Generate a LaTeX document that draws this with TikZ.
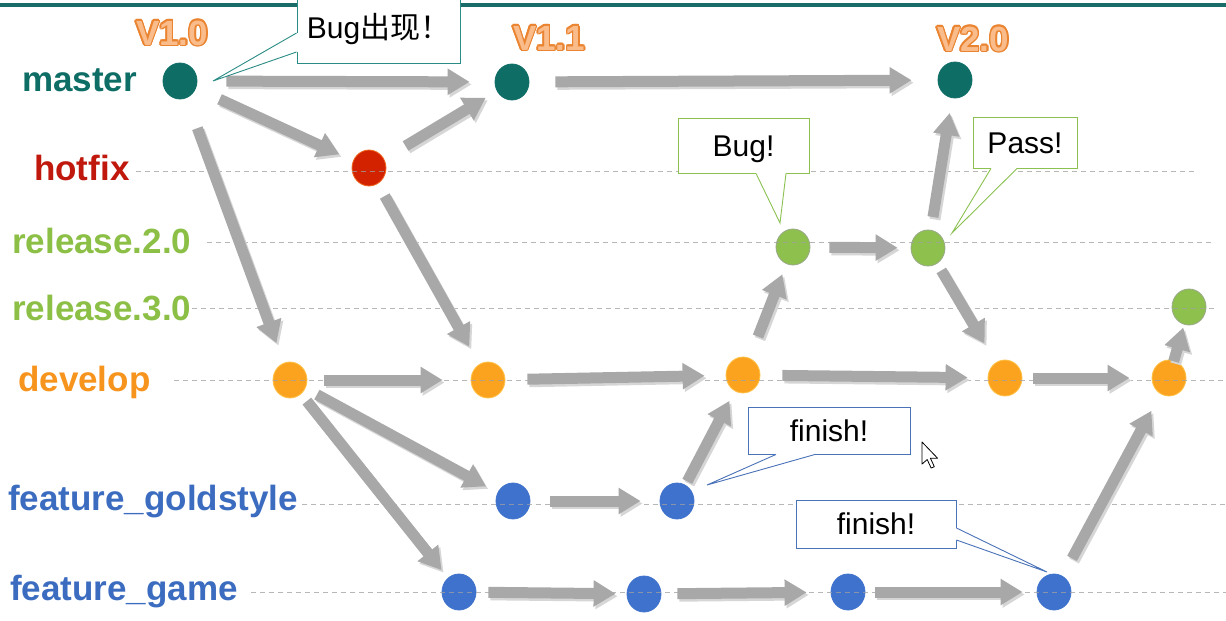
\documentclass[tikz,border=0pt]{standalone}
\usepackage{fontspec}
\setmainfont{Liberation Sans}
\newfontfamily\cjkfont{Noto Sans CJK SC}
\usetikzlibrary{arrows.meta,calc,shapes.geometric}
\definecolor{cteal}{HTML}{0E6E66}
\definecolor{topteal}{HTML}{1A6C68}
\definecolor{calteal}{HTML}{2A8C85}
\definecolor{chot}{HTML}{C0180C}
\definecolor{cred}{HTML}{D22200}
\definecolor{credrim}{HTML}{F06A20}
\definecolor{cgreen}{HTML}{8CBF45}
\definecolor{cgreennode}{HTML}{8DC04C}
\definecolor{cgreenrim}{HTML}{9AA88A}
\definecolor{calgreen}{HTML}{8CC152}
\definecolor{corange}{HTML}{F7941D}
\definecolor{corangenode}{HTML}{FBA31E}
\definecolor{corangerim}{HTML}{FFC24A}
\definecolor{cblue}{HTML}{3B6CC0}
\definecolor{cbluenode}{HTML}{3F72CC}
\definecolor{calblue}{HTML}{4A72B8}
\definecolor{arrowgray}{HTML}{A8A8A8}
\definecolor{shadowgray}{HTML}{D6D6D6}
\definecolor{dashgray}{HTML}{A0A0A0}
\definecolor{vorange}{HTML}{EA8430}
\definecolor{vfill}{HTML}{F9BC8A}
\newcommand{\garr}[4]{%
  \begin{scope}[transform canvas={shift={(2,2.5)}}]
    \draw[gshadow, shorten <=#3pt, shorten >=#4pt] (#1) -- (#2);
  \end{scope}
  \draw[garrow, shorten <=#3pt, shorten >=#4pt] (#1) -- (#2);}
\newcommand{\wedgecall}[5]{%
  \fill[white] ($(#2)+(#5)$) -- (#2) -- (#4) -- (#3) -- ($(#3)+(#5)$) -- cycle;
  \draw[#1, line width=0.9pt, line join=miter] (#2) -- (#4) -- (#3);}
\newcommand{\vtag}[3]{%
  \foreach \ang in {0,30,...,330} {\node[vtxt, text=vorange] at ($(#2)+(\ang:1.5pt)$) {#3};}
  \node[vtxt, text=vfill] (#1) at (#2) {#3};}
\begin{document}
\begin{tikzpicture}[x=1pt,y=-1pt,
  cnode/.style={ellipse, minimum width=34pt, minimum height=36pt, inner sep=0pt, line width=0.8pt},
  tnode/.style={cnode, fill=cteal, draw=cteal},
  rnode/.style={cnode, fill=cred, draw=credrim},
  gnode/.style={cnode, fill=cgreennode, draw=cgreenrim},
  onode/.style={cnode, fill=corangenode, draw=corangerim},
  bnode/.style={cnode, fill=cbluenode, draw=cbluenode},
  garrow/.style={draw=arrowgray, line width=11pt, -{Triangle[length=22pt,width=25pt]}},
  gshadow/.style={draw=shadowgray, line width=11pt, -{Triangle[length=22pt,width=25pt]}},
  dline/.style={draw=dashgray, line width=1pt, dash pattern=on 5pt off 4pt, opacity=0.75},
  callbox/.style={draw, fill=white, line width=0.9pt, inner sep=0pt,
    font=\fontsize{30}{30}\selectfont, text height=21.5pt, text depth=0pt},
  lab/.style={font=\fontsize{35}{35}\selectfont\bfseries, inner sep=0pt, anchor=base west},
  vtxt/.style={font=\fontsize{35}{35}\selectfont\bfseries, inner sep=0pt}
]
\useasboundingbox (0,0) rectangle (1226,621);
\fill[white] (0,0) rectangle (1226,621);
\draw[draw=topteal, line width=4pt] (0,4.5) -- (1226,4.5);

% commits
\node[tnode] (m1) at (180,81) {};
\node[tnode] (m2) at (512,82) {};
\node[tnode] (m3) at (955,80) {};
\node[rnode] (h1) at (369,168) {};
\node[gnode] (r2a) at (793,247) {};
\node[gnode] (r2b) at (928,248) {};
\node[gnode] (r3) at (1189,307) {};
\node[onode] (d1) at (290,380) {};
\node[onode] (d2) at (488,380) {};
\node[onode] (d3) at (743,375) {};
\node[onode] (d4) at (1005,378) {};
\node[onode] (d5) at (1169,378) {};
\node[bnode] (g1) at (513,501) {};
\node[bnode] (g2) at (677,501) {};
\node[bnode] (f1) at (459,592) {};
\node[bnode] (f2) at (644,594) {};
\node[bnode] (f3) at (848,592) {};
\node[bnode] (f4) at (1054,592) {};

% guide lines
\draw[dline] (136,171) -- (1197,171);
\draw[dline] (207,242) -- (1211,242);
\draw[dline] (192,308) -- (1215,308);
\draw[dline] (174,380) -- (1226,380);
\draw[dline] (302,504) -- (1226,504);
\draw[dline] (251,592) -- (1226,592);

% arrows
\garr{m1}{m2}{29}{25}
\garr{m2}{m3}{26}{26}
\garr{m1}{h1}{26}{15}
\garr{h1}{m2}{25}{13}
\garr{m1}{d1}{32}{21}
\garr{h1}{d2}{14}{20}
\garr{d1}{d2}{17}{28}
\garr{d2}{d3}{22}{21}
\garr{d3}{r2a}{23}{11}
\garr{r2a}{r2b}{19}{13}
\garr{r2b}{m3}{13}{15}
\garr{r2b}{d4}{8}{22}
\garr{d3}{d4}{22}{20}
\garr{d4}{d5}{11}{22}
\garr{d5}{r3}{-1}{3}
\garr{d1}{g1}{13}{13}
\garr{d1}{f1}{9}{10}
\garr{g1}{g2}{20}{19}
\garr{g2}{d3}{4}{11}
\garr{f1}{f2}{12}{11}
\garr{f2}{f3}{16}{24}
\garr{f3}{f4}{10}{14}
\garr{f4}{d5}{20}{19}

% callouts
\node[callbox, draw=calteal, minimum width=163pt, minimum height=71pt] (bugbox) at (378.5,27.5) {Bug{\cjkfont 出现！}};
\coordinate (bugtip) at (213,81);
\wedgecall{calteal}{$(bugbox.west)+(0,5.5)$}{$(bugbox.west)+(0,24.5)$}{bugtip}{1.5,0}

\node[callbox, draw=calgreen, minimum width=131pt, minimum height=55pt] (bugtag) at (743.5,145.5) {Bug!};
\coordinate (bugtagtip) at (780,223);
\wedgecall{calgreen}{$(bugtag.south)+(12.5,0)$}{$(bugtag.south)+(42.5,0)$}{bugtagtip}{0,-1.5}

\node[callbox, draw=calgreen, minimum width=104pt, minimum height=51pt] (passtag) at (1025,142.5) {Pass!};
\coordinate (passtip) at (952,233);
\wedgecall{calgreen}{$(passtag.south)+(-34,0)$}{$(passtag.south)+(-8,0)$}{passtip}{0,-1.5}

\node[callbox, draw=calblue, minimum width=162pt, minimum height=47pt] (fin1) at (829,430.5) {finish!};
\coordinate (fin1tip) at (707,485);
\wedgecall{calblue}{$(fin1.south)+(-53,0)$}{$(fin1.south)+(-14,0)$}{fin1tip}{0,-1.5}

\node[callbox, draw=calblue, minimum width=160pt, minimum height=48pt] (fin2) at (876,524) {finish!};
\coordinate (fin2tip) at (1047,572);
\wedgecall{calblue}{$(fin2.east)+(0,4)$}{$(fin2.east)+(0,16)$}{fin2tip}{-1.5,0}

% branch labels
\node[lab, text=cteal] (lmaster) at (22,91) {master};
\node[lab, text=chot] (lhotfix) at (34,180) {hotfix};
\node[lab, text=cgreen] (lrel2) at (12,253) {release.2.0};
\node[lab, text=cgreen] (lrel3) at (12,320) {release.3.0};
\node[lab, text=corange] (ldevelop) at (18,391) {develop};
\node[lab, text=cblue] (lgold) at (8,510) {feature\_goldstyle};
\node[lab, text=cblue] (lgame) at (10,600) {feature\_game};

% version tags
\vtag{v10}{172,33}{V1.0}
\vtag{v11}{549,38}{V1.1}
\vtag{v20}{973,39}{V2.0}

% mouse cursor
\draw[fill=white, draw=black, line width=0.8pt, line join=round, shift={(922,442)}, scale=1.3]
  (0,0) -- (0,17) -- (4,13.5) -- (7,20) -- (9.5,19) -- (6.5,12.5) -- (12,12.5) -- cycle;
\end{tikzpicture}
\end{document}
